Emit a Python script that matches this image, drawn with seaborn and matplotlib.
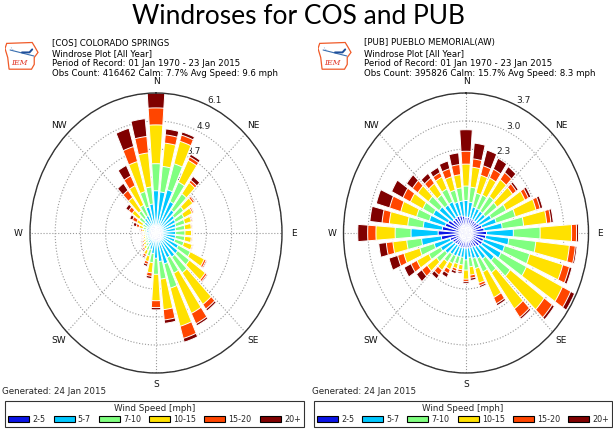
import numpy as np
import pandas as pd
import matplotlib
matplotlib.use("Agg")
import matplotlib.pyplot as plt
import seaborn as sns
from matplotlib.patches import Patch, Polygon

sns.set_theme(style="white")
plt.rcParams["font.family"] = ["DejaVu Sans"]

# ---------------- data ----------------
directions = list(range(0, 360, 10))
speed_bins = ["2-5", "5-7", "7-10", "10-15", "15-20", "20+"]
bin_colors = ["#0a14e6", "#00c8ff", "#80ff80", "#ffe100", "#ff4500", "#800000"]
compass = ["N", "NE", "E", "SE", "S", "SW", "W", "NW"]

# COS cumulative frequency (%) at the outer edge of each speed bin
cos_2_5 = [0.3, 0.3, 0.3, 0.28, 0.27, 0.27, 0.27, 0.27, 0.27, 0.27, 0.27, 0.27,
           0.28, 0.28, 0.28, 0.28, 0.28, 0.28, 0.28, 0.27, 0.26, 0.25, 0.25, 0.25,
           0.25, 0.25, 0.25, 0.25, 0.25, 0.25, 0.25, 0.26, 0.27, 0.28, 0.3, 0.3]
cos_5_7 = [1.84, 1.80, 1.96, 1.53, 1.25, 1.1, 1.05, 1.0, 0.95, 0.95, 0.95, 0.95,
           1.2, 1.3, 1.3, 1.2, 1.4, 1.25, 1.1, 0.9, 0.75, 0.65, 0.55, 0.5,
           0.45, 0.45, 0.45, 0.45, 0.47, 0.48, 0.5, 0.69, 0.8, 0.85, 1.18, 1.27]
cos_7_10 = [3.02, 2.92, 3.14, 2.47, 2.12, 1.65, 1.5, 1.45, 1.4, 1.4, 1.4, 1.4,
            1.85, 2.0, 2.15, 1.95, 2.5, 2.02, 1.8, 1.3, 1.05, 0.85, 0.72, 0.63,
            0.57, 0.55, 0.54, 0.54, 0.58, 0.66, 0.72, 1.0, 1.2, 1.35, 1.88, 2.02]
cos_10_15 = [4.71, 3.94, 4.16, 3.53, 2.72, 2.2, 1.95, 1.78, 1.72, 1.72, 1.72, 1.82,
             2.6, 2.95, 3.85, 3.9, 4.23, 3.36, 2.95, 1.75, 1.3, 1.05, 0.86, 0.76,
             0.68, 0.64, 0.62, 0.62, 0.68, 0.86, 1.04, 1.43, 1.92, 2.3, 3.24, 3.51]
cos_15_20 = [5.45, 4.30, 4.44, 3.69, 2.85, 2.3, 2.02, 1.83, 1.76, 1.76, 1.76, 1.86,
             2.7, 3.05, 4.1, 4.4, 4.78, 3.81, 3.25, 1.9, 1.42, 1.15, 0.94, 0.84,
             0.76, 0.7, 0.67, 0.67, 0.76, 1.0, 1.27, 1.64, 2.3, 2.77, 3.92, 4.23]
cos_20p = [6.1, 4.56, 4.58, 3.82, 3.05, 2.35, 2.05, 1.86, 1.78, 1.78, 1.78, 1.88,
           2.75, 3.1, 4.2, 4.5, 4.95, 3.96, 3.35, 2.0, 1.52, 1.22, 1.0, 0.9,
           0.82, 0.75, 0.71, 0.72, 0.82, 1.15, 1.42, 1.81, 2.68, 3.28, 4.75, 5.01]

# PUB cumulative frequency (%)
pub_2_5 = [0.42, 0.42, 0.4, 0.4, 0.4, 0.4, 0.45, 0.5, 0.55, 0.62, 0.6, 0.55,
           0.55, 0.5, 0.45, 0.4, 0.4, 0.4, 0.4, 0.4, 0.4, 0.4, 0.4, 0.42,
           0.45, 0.5, 0.75, 0.84, 0.72, 0.65, 0.6, 0.5, 0.5, 0.5, 0.48, 0.45]
pub_5_7 = [0.86, 0.82, 0.72, 0.72, 0.72, 0.72, 0.85, 0.95, 1.1, 1.43, 1.3, 1.21,
           1.18, 1.05, 0.85, 0.75, 0.7, 0.65, 0.71, 0.65, 0.65, 0.68, 0.7, 0.78,
           0.85, 1.0, 1.35, 1.66, 1.3, 1.15, 1.1, 1.0, 0.92, 0.92, 0.85, 0.85]
pub_7_10 = [1.24, 1.22, 1.1, 1.12, 1.2, 1.16, 1.35, 1.55, 1.75, 2.24, 2.12, 2.0,
            2.03, 1.65, 1.3, 1.15, 0.98, 0.9, 0.98, 0.85, 0.85, 0.9, 0.95, 1.1,
            1.25, 1.45, 1.8, 2.14, 1.77, 1.55, 1.45, 1.4, 1.25, 1.3, 1.18, 1.2]
pub_10_15 = [1.82, 1.75, 1.59, 1.62, 1.75, 1.74, 1.98, 2.2, 2.45, 3.19, 3.14, 3.04,
             3.24, 2.92, 2.48, 1.9, 1.38, 1.12, 1.22, 0.98, 0.98, 1.08, 1.22, 1.45,
             1.65, 1.95, 2.22, 2.72, 2.33, 2.05, 1.87, 1.8, 1.62, 1.65, 1.55, 1.55]
pub_15_20 = [2.16, 1.97, 1.85, 1.88, 1.98, 1.88, 2.1, 2.33, 2.58, 3.34, 3.32, 3.25,
             3.52, 3.22, 2.76, 2.08, 1.45, 1.2, 1.28, 1.04, 1.05, 1.2, 1.38, 1.65,
             1.85, 2.15, 2.42, 2.97, 2.55, 2.4, 2.12, 2.0, 1.8, 1.78, 1.77, 1.82]
pub_20p = [2.73, 2.39, 2.28, 2.2, 2.17, 1.95, 2.18, 2.41, 2.65, 3.4, 3.37, 3.33,
           3.65, 3.3, 2.82, 2.14, 1.5, 1.26, 1.33, 1.08, 1.12, 1.31, 1.5, 1.85,
           2.08, 2.42, 2.65, 3.27, 2.92, 2.82, 2.5, 2.22, 1.95, 1.93, 1.98, 2.13]

cos_rticks = [1.22, 2.44, 3.66, 4.88, 6.1]
cos_rlabels = ["1.3", "2.5", "3.7", "4.9", "6.1"]
pub_rticks = [0.74, 1.48, 2.22, 2.96, 3.7]
pub_rlabels = ["0.8", "1.6", "2.3", "3.0", "3.7"]

cos_header = ["[COS] COLORADO SPRINGS", "Windrose Plot [All Year]",
              "Period of Record: 01 Jan 1970 - 23 Jan 2015",
              "Obs Count: 416462 Calm: 7.7% Avg Speed: 9.6 mph"]
pub_header = ["[PUB] PUEBLO MEMORIAL(AW)", "Windrose Plot [All Year]",
              "Period of Record: 01 Jan 1970 - 23 Jan 2015",
              "Obs Count: 395826 Calm: 15.7% Avg Speed: 8.3 mph"]

W, H = 613, 434
fig = plt.figure(figsize=(W / 100, H / 100), dpi=100)
fig.patch.set_facecolor("white")


def px_rect(x0, y0, x1, y1):
    return [x0 / W, 1 - y1 / H, (x1 - x0) / W, (y1 - y0) / H]


def long_frame(cums):
    rows = []
    for lab, cum in zip(speed_bins, cums):
        for d, v in zip(directions, cum):
            rows.append({"theta": np.deg2rad(d), "bin": lab, "freq": v})
    return pd.DataFrame(rows)


def draw_rose(rect, cums, rticks, rlabels):
    ax = fig.add_axes(rect, projection="polar")
    ax.set_theta_zero_location("N")
    ax.set_theta_direction(-1)
    df = long_frame(cums)
    sns.barplot(data=df, x="theta", y="freq", hue="bin",
                hue_order=speed_bins[::-1],
                palette=dict(zip(speed_bins, bin_colors)),
                native_scale=True, dodge=False, width=0.8, saturation=1,
                errorbar=None, legend=False, edgecolor="white",
                linewidth=0.7, ax=ax)
    ax.set_xlim(0, 2 * np.pi)
    ax.set_ylim(0, rticks[-1])
    ax.set_aspect("auto")
    ax.set_xlabel("")
    ax.set_ylabel("")
    ax.set_xticks(np.deg2rad(np.arange(0, 360, 45)))
    ax.set_xticklabels(compass, fontsize=6.5, color="#111111")
    ax.set_yticks(rticks)
    ax.set_yticklabels(rlabels, fontsize=6.5, color="#222222")
    ax.set_rlabel_position(24)
    ax.tick_params(axis="x", pad=1.5, length=0)
    ax.grid(True, linestyle=":", color="#999999", linewidth=0.8)
    ax.set_axisbelow(True)
    ax.spines["polar"].set_color("#333333")
    ax.spines["polar"].set_linewidth(1.0)
    for t in ax.get_yticklabels():
        t.set_zorder(10)
    return ax


def draw_logo(x0, y0):
    lax = fig.add_axes(px_rect(x0, y0, x0 + 34, y0 + 30))
    lax.set_xlim(0, 1)
    lax.set_ylim(0, 1)
    lax.axis("off")
    iowa = [(0.05, 0.92), (0.80, 0.95), (0.88, 0.80), (0.97, 0.62), (0.86, 0.45),
            (0.86, 0.22), (0.78, 0.06), (0.12, 0.06), (0.08, 0.45), (0.0, 0.75)]
    lax.add_patch(Polygon(iowa, closed=True, fill=False, edgecolor="#f05a28", linewidth=0.9))
    lax.plot([0.15, 0.85], [0.70, 0.50], color="#3a6fb0", linewidth=0.8)
    lax.plot([0.5, 0.72, 0.8], [0.62, 0.62, 0.72], color="#1f4f9a", linewidth=1.4)
    lax.plot([0.18, 0.3], [0.78, 0.62], color="#7aa0d0", linewidth=0.6, linestyle=":")
    lax.text(0.42, 0.28, "IEM", color="#e03020", fontsize=5.5, style="italic",
             family="DejaVu Serif", ha="center", va="center")


ax1 = draw_rose(px_rect(30, 93, 282, 373),
                [cos_2_5, cos_5_7, cos_7_10, cos_10_15, cos_15_20, cos_20p],
                cos_rticks, cos_rlabels)
ax2 = draw_rose(px_rect(343.5, 93, 588.5, 373),
                [pub_2_5, pub_5_7, pub_7_10, pub_10_15, pub_15_20, pub_20p],
                pub_rticks, pub_rlabels)

# title
fig.text(298 / W, 1 - 16 / H, "Windroses for COS and PUB", ha="center", va="center",
         fontsize=19, family="Lato", color="black")

# headers
for x0, lines in [(52, cos_header), (364, pub_header)]:
    for i, line in enumerate(lines):
        fig.text(x0 / W, 1 - (43 + i * 10.2) / H, line, fontsize=6.25,
                 ha="left", va="center", color="black")

draw_logo(5, 41)
draw_logo(318, 41)

# generated stamps
fig.text(2 / W, 1 - 392 / H, "Generated: 24 Jan 2015", fontsize=6.3, va="center")
fig.text(312 / W, 1 - 392 / H, "Generated: 24 Jan 2015", fontsize=6.3, va="center")

# legends
handles = [Patch(facecolor=c, edgecolor="black", linewidth=0.8) for c in bin_colors]
for cx in [154.5, 463]:
    leg = fig.legend(handles, speed_bins, ncol=6, loc="center",
                     bbox_to_anchor=(cx / W, 1 - 414 / H),
                     title="Wind Speed [mph]", fontsize=5.8, title_fontsize=6.3,
                     frameon=True, fancybox=False, edgecolor="black",
                     handlelength=2.6, handleheight=0.9, handletextpad=0.4,
                     columnspacing=1.0, borderpad=0.4, labelspacing=0.2)
    leg.get_frame().set_linewidth(0.8)

fig.savefig("out.png", dpi=100, facecolor="white")
